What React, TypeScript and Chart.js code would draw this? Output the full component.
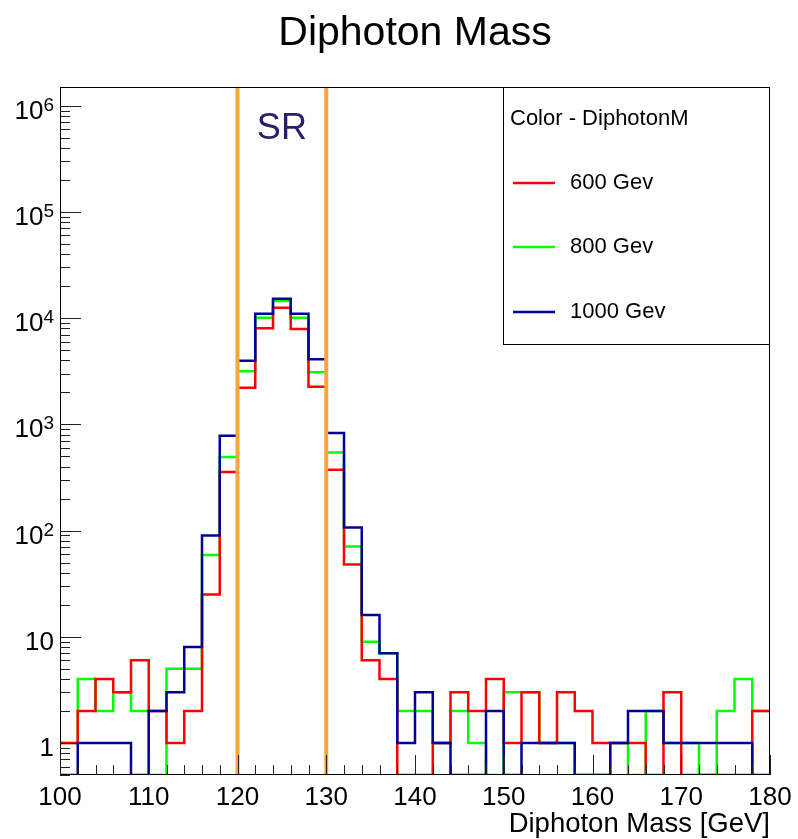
import React, { useEffect, useRef } from "react";
import { Chart, registerables } from "chart.js";

Chart.register(...registerables);

// ---- data ----
const binLowEdges = [
  100, 102, 104, 106, 108, 110, 112, 114, 116, 118,
  120, 122, 124, 126, 128, 130, 132, 134, 136, 138,
  140, 142, 144, 146, 148, 150, 152, 154, 156, 158,
  160, 162, 164, 166, 168, 170, 172, 174, 176, 178,
];
const binUpperEnd = 180;

const mass600 = [
  1, 2, 4, 3, 6, 2, 1, 2, 25, 357,
  2215, 8040, 12500, 7900, 2260, 373, 48, 6, 4, 0,
  0, 1, 3, 2, 4, 1, 3, 1, 3, 2,
  1, 1, 1, 0, 3, 0, 0, 0, 0, 2,
];
const mass800 = [
  1, 4, 2, 3, 2, 0, 5, 5, 59, 494,
  3165, 10070, 14500, 10070, 3090, 544, 71, 9, 7, 2,
  2, 1, 2, 1, 0, 3, 3, 1, 1, 0,
  0, 1, 0, 2, 1, 1, 0, 2, 4, 2,
];
const mass1000 = [
  0, 1, 1, 1, 0, 2, 3, 8, 90, 780,
  3980, 10970, 15200, 10970, 4100, 828, 107, 16, 7, 1,
  3, 1, 0, 0, 2, 0, 1, 1, 1, 0,
  0, 1, 2, 2, 1, 1, 1, 1, 1, 0,
];

const seriesLabels = ["600 Gev", "800 Gev", "1000 Gev"];
const seriesColors = ["#ff0000", "#00ff00", "#000099"];

const xTickValues = [100, 110, 120, 130, 140, 150, 160, 170, 180];
const yTickExponents = [0, 1, 2, 3, 4, 5, 6];
const srEdges = [120, 130];

const X_MIN = 100;
const X_MAX = 180;
const Y_MIN = 0.5;
const Y_MAX = 1.5e6;

const FONT = '"Liberation Sans", Arial, Helvetica, sans-serif';

function histPoints(values: number[]) {
  const pts = values.map((v, i) => ({ x: binLowEdges[i], y: v > 0 ? v : Y_MIN }));
  const last = values[values.length - 1];
  pts.push({ x: binUpperEnd, y: last > 0 ? last : Y_MIN });
  return pts;
}

const rootPlugin = {
  id: "rootStyle",
  afterDatasetsDraw(chart: any) {
    const { ctx, chartArea } = chart;
    const xs = chart.scales.x;
    ctx.save();
    ctx.strokeStyle = "#fba43c";
    ctx.lineWidth = 4;
    srEdges.forEach((v) => {
      const px = xs.getPixelForValue(v);
      ctx.beginPath();
      ctx.moveTo(px, chartArea.top);
      ctx.lineTo(px, chartArea.bottom);
      ctx.stroke();
    });
    const mid = (xs.getPixelForValue(srEdges[0]) + xs.getPixelForValue(srEdges[1])) / 2;
    ctx.fillStyle = "#2b1d6c";
    ctx.font = `36px ${FONT}`;
    ctx.textAlign = "center";
    ctx.textBaseline = "alphabetic";
    ctx.fillText("SR", mid, 139);
    ctx.restore();
  },
  afterDraw(chart: any) {
    const { ctx, chartArea } = chart;
    const xs = chart.scales.x;
    const ys = chart.scales.y;
    const { left, right, top, bottom } = chartArea;
    ctx.save();
    // frame
    ctx.strokeStyle = "#000";
    ctx.lineWidth = 1;
    ctx.strokeRect(Math.round(left) + 0.5, Math.round(top) + 0.5, Math.round(right - left) - 1, Math.round(bottom - top) - 1);

    // x ticks
    ctx.strokeStyle = "#222";
    ctx.beginPath();
    for (let v = X_MIN; v <= X_MAX; v += 2) {
      const px = Math.round(xs.getPixelForValue(v)) + 0.5;
      const len = v % 10 === 0 ? 20 : 10;
      ctx.moveTo(px, bottom);
      ctx.lineTo(px, bottom - len);
    }
    // y ticks
    for (let d = -1; d <= 6; d++) {
      for (let k = 1; k <= 9; k++) {
        const v = k * Math.pow(10, d);
        if (v < Y_MIN - 1e-9 || v > Y_MAX) continue;
        const py = Math.round(ys.getPixelForValue(v)) + 0.5;
        const len = k === 1 ? 21 : 10;
        ctx.moveTo(left, py);
        ctx.lineTo(left + len, py);
      }
    }
    ctx.stroke();

    // x labels
    ctx.fillStyle = "#000";
    ctx.font = `26px ${FONT}`;
    ctx.textAlign = "center";
    ctx.textBaseline = "alphabetic";
    xTickValues.forEach((v) => {
      ctx.fillText(String(v), xs.getPixelForValue(v), 805);
    });

    // y labels
    yTickExponents.forEach((e) => {
      const py = ys.getPixelForValue(Math.pow(10, e));
      const rightEdge = 54;
      if (e === 0 || e === 1) {
        ctx.font = `26px ${FONT}`;
        ctx.textAlign = "right";
        ctx.fillText(e === 0 ? "1" : "10", rightEdge, py + 13);
      } else {
        ctx.font = `19px ${FONT}`;
        const sup = String(e);
        const ws = ctx.measureText(sup).width;
        ctx.font = `26px ${FONT}`;
        const wb = ctx.measureText("10").width;
        ctx.textAlign = "left";
        const x0 = rightEdge - ws - wb;
        ctx.fillText("10", x0, py + 13);
        ctx.font = `19px ${FONT}`;
        ctx.fillText(sup, x0 + wb, py + 5);
      }
    });

    // title
    ctx.font = `41px ${FONT}`;
    ctx.textAlign = "center";
    ctx.fillText("Diphoton Mass", (left + right) / 2, 45);

    // x-axis title
    ctx.font = `27.5px ${FONT}`;
    ctx.textAlign = "right";
    ctx.fillText("Diphoton Mass [GeV]", right, 832);

    // legend
    const lx0 = 503.5, ly0 = Math.round(top) + 0.5, lx1 = Math.round(right) - 0.5, ly1 = 344.5;
    ctx.fillStyle = "#fff";
    ctx.fillRect(lx0, ly0, lx1 - lx0, ly1 - ly0);
    ctx.strokeStyle = "#000";
    ctx.lineWidth = 1;
    ctx.strokeRect(lx0, ly0, lx1 - lx0, ly1 - ly0);
    ctx.fillStyle = "#000";
    ctx.textAlign = "left";
    ctx.textBaseline = "middle";
    ctx.font = `22px ${FONT}`;
    ctx.fillText("Color - DiphotonM", 510, 119);
    const rowY = [183, 247, 312];
    seriesLabels.forEach((lab, i) => {
      ctx.strokeStyle = seriesColors[i];
      ctx.lineWidth = 2.5;
      ctx.beginPath();
      ctx.moveTo(513, rowY[i]);
      ctx.lineTo(555, rowY[i]);
      ctx.stroke();
      ctx.fillStyle = "#000";
      ctx.fillText(lab, 570, rowY[i]);
    });
    ctx.restore();
  },
};

export default function App() {
  const ref = useRef<HTMLCanvasElement | null>(null);
  useEffect(() => {
    if (!ref.current) return;
    const series = [mass600, mass800, mass1000];
    const drawOrder = [1, 2, 0];
    const chart = new Chart(ref.current, {
      type: "line",
      data: {
        datasets: series.map((vals, i) => ({
          label: seriesLabels[i],
          data: histPoints(vals),
          borderColor: seriesColors[i],
          borderWidth: 2.5,
          pointRadius: 0,
          fill: false,
          stepped: true,
          tension: 0,
          order: drawOrder[i],
        })),
      },
      options: {
        animation: false,
        responsive: false,
        devicePixelRatio: 1,
        layout: { padding: { left: 60, right: 28, top: 87, bottom: 64 } },
        plugins: {
          legend: { display: false },
          title: { display: false },
          tooltip: { enabled: false },
        },
        scales: {
          x: { type: "linear", min: X_MIN, max: X_MAX, display: false },
          y: { type: "logarithmic", min: Y_MIN, max: Y_MAX, display: false },
        },
      },
      plugins: [rootPlugin],
    });
    return () => chart.destroy();
  }, []);
  return (
    <div style={{ position: "absolute", left: 0, top: 0, width: 798, height: 839, background: "#fff" }}>
      <canvas ref={ref} width={798} height={839} />
    </div>
  );
}
